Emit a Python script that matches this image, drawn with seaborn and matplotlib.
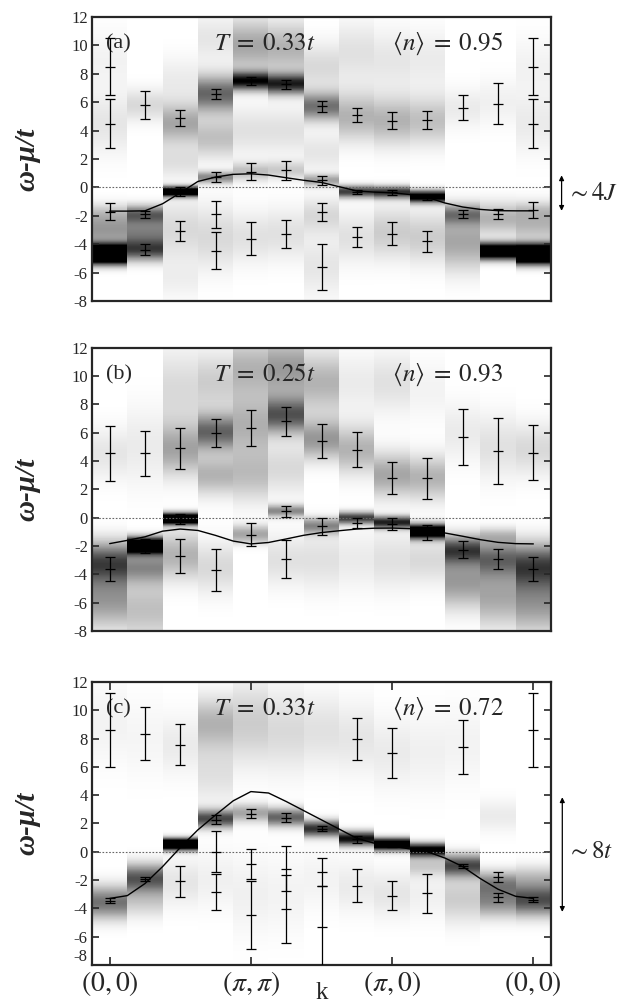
import numpy as np
import matplotlib
matplotlib.use("Agg")
import matplotlib.pyplot as plt
import seaborn as sns

# k path: (0,0) -> (pi,pi) -> (pi,0) -> (0,0), 13 points
k_idx = list(range(13))
k_half = [i / 2 for i in range(25)]
k_tick_pos = [0, 4, 8, 12]
k_tick_lab = [r'$(0,0)$', r'$(\pi,\pi)$', r'$(\pi,0)$', r'$(0,0)$']
y_ticks = [-8, -6, -4, -2, 0, 2, 4, 6, 8, 10, 12]

# spectral peaks per k column: (k, centre, width, weight)
a_peaks = [
    (0, -4.7, 0.45, 2.2), (0, -3.0, 0.8, 0.4), (0, -1.8, 0.5, 0.15), (0, 4.5, 1.5, 0.1), (0, 9.0, 1.5, 0.05),
    (1, -1.9, 0.45, 0.55), (1, -3.1, 0.7, 0.45), (1, -4.4, 0.55, 0.7), (1, 5.8, 0.8, 0.15),
    (2, -0.3, 0.25, 1.3), (2, 4.5, 1.0, 0.35), (2, 1.8, 0.8, 0.12), (2, 7.5, 1.2, 0.08), (2, -3.0, 1.5, 0.15), (2, -6.5, 1.0, 0.06),
    (3, 6.6, 0.9, 0.6), (3, 3.5, 1.0, 0.25), (3, 0.7, 0.3, 0.45), (3, -3.5, 1.6, 0.15), (3, 10.5, 1.2, 0.1),
    (4, 7.5, 0.45, 0.95), (4, 10.0, 1.3, 0.35), (4, 4.0, 1.2, 0.12), (4, 1.1, 0.45, 0.25), (4, -3.5, 1.3, 0.12),
    (5, 7.3, 0.5, 0.85), (5, 9.8, 1.3, 0.3), (5, 4.0, 1.2, 0.12), (5, 1.2, 0.45, 0.2), (5, -3.3, 1.3, 0.12),
    (6, 5.7, 0.7, 0.55), (6, 8.5, 1.2, 0.15), (6, 2.5, 1.0, 0.1), (6, 0.5, 0.3, 0.35), (6, -2.0, 0.9, 0.15), (6, -5.5, 1.5, 0.1),
    (7, 5.0, 1.2, 0.3), (7, 9.5, 1.5, 0.12), (7, -0.3, 0.3, 0.75), (7, -3.5, 1.3, 0.12),
    (8, 4.7, 1.2, 0.3), (8, 9.0, 1.5, 0.1), (8, -0.35, 0.3, 0.8), (8, -3.2, 1.3, 0.2),
    (9, 4.7, 1.2, 0.25), (9, 9.0, 1.5, 0.08), (9, -0.65, 0.3, 1.1), (9, -3.5, 1.3, 0.2),
    (10, -1.9, 0.5, 0.45), (10, -3.8, 1.4, 0.35), (10, 5.6, 1.0, 0.08),
    (11, -4.5, 0.4, 1.5), (11, -2.2, 0.8, 0.3), (11, 6.0, 1.2, 0.06),
    (12, -4.7, 0.45, 2.2), (12, -2.5, 0.9, 0.3), (12, -1.6, 0.4, 0.1), (12, 4.5, 1.5, 0.08), (12, 8.5, 1.5, 0.05),
]
b_peaks = [
    (0, -3.2, 1.0, 0.7), (0, -5.8, 1.4, 0.4), (0, 4.5, 1.3, 0.1),
    (1, -2.0, 0.4, 1.5), (1, -3.5, 0.8, 0.45), (1, -6.5, 1.5, 0.25), (1, 5.0, 2.0, 0.08),
    (2, -0.1, 0.28, 1.5), (2, 4.8, 1.3, 0.35), (2, 9.0, 2.0, 0.15), (2, -2.7, 1.2, 0.3),
    (3, 6.0, 0.9, 0.6), (3, 3.0, 1.0, 0.3), (3, 9.5, 1.5, 0.2), (3, -3.5, 1.3, 0.15),
    (4, 6.5, 1.5, 0.3), (4, 10.5, 1.5, 0.3), (4, 3.0, 1.3, 0.25), (4, -1.2, 0.45, 0.35),
    (5, 7.2, 0.9, 0.65), (5, 10.5, 1.5, 0.4), (5, 3.5, 1.3, 0.15), (5, 0.45, 0.3, 0.45), (5, -3.0, 1.3, 0.12),
    (6, 5.5, 1.0, 0.4), (6, 9.5, 1.5, 0.3), (6, -0.6, 0.4, 0.45), (6, -3.0, 1.5, 0.12),
    (7, 4.8, 1.2, 0.3), (7, -0.05, 0.3, 0.75), (7, -3.0, 1.5, 0.08), (7, 9.5, 1.5, 0.08),
    (8, 3.0, 1.1, 0.35), (8, 9.5, 1.5, 0.12), (8, -0.35, 0.3, 0.85), (8, -3.0, 1.5, 0.12),
    (9, 2.8, 1.1, 0.3), (9, -1.0, 0.35, 1.4), (9, -3.0, 1.2, 0.15), (9, 9.0, 1.5, 0.05),
    (10, -2.3, 0.7, 0.7), (10, -4.5, 1.3, 0.4), (10, 6.0, 1.5, 0.08),
    (11, -2.9, 0.9, 0.55), (11, -5.5, 1.5, 0.35), (11, -1.3, 0.4, 0.2), (11, 5.0, 1.6, 0.12),
    (12, -3.4, 1.1, 0.7), (12, -6.0, 1.5, 0.4), (12, 4.8, 1.3, 0.15),
]
c_peaks = [
    (0, -3.6, 0.8, 0.55), (0, 9.0, 2.0, 0.05),
    (1, -1.9, 0.7, 0.65), (1, -3.5, 0.8, 0.2), (1, 8.0, 2.0, 0.04),
    (2, 0.5, 0.28, 1.6), (2, -2.2, 1.2, 0.1), (2, 7.5, 1.5, 0.08),
    (3, 2.3, 0.45, 0.7), (3, 9.0, 1.3, 0.3), (3, 5.5, 1.5, 0.12), (3, -2.0, 1.5, 0.06),
    (4, 2.7, 0.45, 0.35), (4, 9.0, 2.0, 0.2), (4, -3.0, 2.0, 0.06),
    (5, 2.4, 0.45, 0.6), (5, 8.5, 2.0, 0.15), (5, -3.0, 2.0, 0.05),
    (6, 1.6, 0.4, 0.8), (6, 8.5, 1.8, 0.12), (6, -2.0, 1.5, 0.05),
    (7, 0.9, 0.35, 0.95), (7, 8.0, 1.8, 0.1), (7, -2.5, 1.3, 0.08),
    (8, 0.5, 0.3, 1.3), (8, 7.0, 1.8, 0.08), (8, -3.0, 1.2, 0.1),
    (9, 0.1, 0.33, 1.1), (9, -1.0, 0.5, 0.2), (9, 7.0, 2.0, 0.06), (9, -3.0, 1.3, 0.06),
    (10, -1.0, 0.55, 0.7), (10, -3.3, 1.2, 0.2), (10, 7.5, 2.0, 0.05),
    (11, -2.2, 0.6, 0.4), (11, -3.5, 0.8, 0.45), (11, 2.5, 0.8, 0.08),
    (12, -3.4, 0.8, 0.7), (12, -1.8, 0.6, 0.2),
]

# error bars: (k, omega, error)
a_bars = [
    (0, 8.5, 2.0), (0, 4.5, 1.7), (0, -1.7, 0.6),
    (1, 5.8, 1.0), (1, -1.9, 0.25), (1, -4.4, 0.38),
    (2, 4.9, 0.55), (2, -0.3, 0.3), (2, -3.1, 0.7),
    (3, 6.6, 0.35), (3, 0.7, 0.35), (3, -1.9, 0.95), (3, -4.45, 1.3),
    (4, 7.5, 0.3), (4, 1.1, 0.6), (4, -3.6, 1.15),
    (5, 7.25, 0.35), (5, 1.2, 0.65), (5, -3.3, 1.0),
    (6, 5.7, 0.4), (6, 0.5, 0.3), (6, -1.75, 0.65), (6, -5.6, 1.6),
    (7, 5.1, 0.5), (7, -0.3, 0.15), (7, -3.5, 0.73),
    (8, 4.7, 0.6), (8, -0.35, 0.15), (8, -3.25, 0.8),
    (9, 4.75, 0.65), (9, -0.75, 0.15), (9, -3.8, 0.73),
    (10, 5.6, 0.88), (10, -1.87, 0.25),
    (11, 5.9, 1.45), (11, -1.9, 0.35), (11, -4.35, 0.15),
    (12, 8.5, 2.0), (12, 4.5, 1.7), (12, -1.6, 0.58),
]
b_bars = [
    (0, 4.55, 1.95), (0, -3.65, 0.85),
    (1, 4.55, 1.6), (1, -2.0, 0.5),
    (2, 4.9, 1.45), (2, -0.1, 0.35), (2, -2.7, 1.2),
    (3, 6.0, 1.0), (3, -3.7, 1.5),
    (4, 6.3, 1.27), (4, -1.2, 0.8),
    (5, 6.8, 1.05), (5, 0.45, 0.4), (5, -2.9, 1.35),
    (6, 5.4, 1.2), (6, -0.6, 0.6),
    (7, 4.8, 1.25), (7, -0.4, 0.35),
    (8, 2.8, 1.15), (8, -0.45, 0.45),
    (9, 2.8, 1.45), (9, -1.05, 0.5),
    (10, 5.7, 2.0), (10, -2.25, 0.63),
    (11, 4.7, 2.33), (11, -2.9, 0.7),
    (12, 4.6, 1.97), (12, -3.65, 0.85),
]
c_bars = [
    (0, 8.6, 2.6), (0, -3.45, 0.2),
    (1, 8.35, 1.9), (1, -1.9, 0.15),
    (2, 7.55, 1.45), (2, 0.45, 0.12), (2, -2.1, 1.1),
    (3, 2.27, 0.3), (3, 0.0, 1.45), (3, -2.85, 1.3),
    (4, 2.7, 0.33), (4, -0.85, 1.05), (4, -4.5, 2.4),
    (5, 2.4, 0.33), (5, -1.2, 1.6), (5, -4.05, 2.4),
    (6, 1.63, 0.17), (6, -1.43, 0.98), (6, -5.35, 2.95),
    (7, 7.97, 1.47), (7, 0.87, 0.25), (7, -2.4, 1.17),
    (8, 7.0, 1.76), (8, 0.5, 0.13), (8, -3.1, 1.0),
    (9, 0.15, 0.1), (9, -2.95, 1.4),
    (10, 7.4, 1.9), (10, -1.0, 0.12),
    (11, -1.78, 0.34), (11, -3.23, 0.3),
    (12, 8.6, 2.6), (12, -3.4, 0.17),
]

# mean-field dispersion read at half-steps of k
a_curve = [-1.67, -1.67, -1.65, -1.15, -0.38, 0.42, 0.73, 0.92, 0.96, 0.87, 0.68, 0.5, 0.35,
           0.05, -0.25, -0.33, -0.38, -0.5, -0.7, -1.1, -1.38, -1.55, -1.64, -1.65, -1.65]
b_curve = [-1.83, -1.6, -1.35, -0.95, -0.8, -0.9, -1.25, -1.65, -1.85, -1.75, -1.5, -1.24, -1.05,
           -0.92, -0.8, -0.74, -0.73, -0.77, -0.92, -1.08, -1.31, -1.55, -1.74, -1.83, -1.85]
c_curve = [-3.3, -3.1, -2.25, -1.05, 0.3, 1.55, 2.6, 3.6, 4.25, 4.15, 3.55, 2.9, 2.25,
           1.6, 0.95, 0.6, 0.4, 0.2, 0.0, -0.45, -1.05, -1.9, -2.65, -3.15, -3.3]

panels = [
    ('(a)', r'$T\;=\;0.33t$', r'$\langle n\rangle\;=\;0.95$', a_peaks, a_bars, a_curve),
    ('(b)', r'$T\;=\;0.25t$', r'$\langle n\rangle\;=\;0.93$', b_peaks, b_bars, b_curve),
    ('(c)', r'$T\;=\;0.33t$', r'$\langle n\rangle\;=\;0.72$', c_peaks, c_bars, c_curve),
]

sns.set_style('ticks')
plt.rcParams['font.family'] = ['Liberation Serif', 'DejaVu Serif']
plt.rcParams['mathtext.fontset'] = 'stix'
plt.rcParams['axes.unicode_minus'] = False

fig = plt.figure(figsize=(6.25, 10.08), dpi=100)
ax_pos = [[0.1472, 0.7014, 0.7344, 0.2817],
          [0.1472, 0.3740, 0.7344, 0.2810],
          [0.1472, 0.0427, 0.7344, 0.2808]]
omega = np.linspace(-8, 12, 801)

for n, (tag, ttxt, ntxt, peaks, bars, curve) in enumerate(panels):
    ax = fig.add_axes(ax_pos[n])
    # build spectral weight image
    img = np.zeros((len(omega), 13))
    for k, c, w, a in peaks:
        img[:, k] += a * np.exp(-0.5 * ((omega - c) / w) ** 2)
    img = np.clip(img, 0, 1)
    ax.imshow(img, origin='lower', extent=(-0.5, 12.5, -8, 12), aspect='auto',
              cmap='gray_r', vmin=0, vmax=1, interpolation='nearest', zorder=0)
    ax.axhline(0, color='0.4', lw=0.8, ls=(0, (1.5, 1.5)), zorder=1)
    sns.lineplot(x=k_half, y=curve, ax=ax, color='black', lw=1.0, zorder=3)
    bx = [b[0] for b in bars]
    by = [b[1] for b in bars]
    be = [b[2] for b in bars]
    ax.errorbar(bx, by, yerr=be, fmt='_', color='black', ms=7, mew=0.9,
                elinewidth=0.9, capsize=3.5, capthick=0.9, zorder=4)

    ax.set_xlim(-0.5, 12.5)
    ax.set_ylim(-8, 12)
    ax.set_yticks(y_ticks)
    ax.set_yticklabels([str(v) for v in y_ticks])
    ax.tick_params(axis='y', direction='in', length=5, width=1.2, right=True,
                   labelsize=12, pad=3)
    for s in ax.spines.values():
        s.set_linewidth(1.6)
    ax.set_ylabel('ω-μ/t', fontsize=21, fontweight='bold', fontstyle='italic')
    ax.yaxis.set_label_coords(-0.112, 0.5)

    ax.text(-0.1, 10.1, tag, fontsize=16, ha='left', va='center')
    ax.text(2.95, 10.1, ttxt, fontsize=18, ha='left', va='center')
    ax.text(8.0, 10.1, ntxt, fontsize=18, ha='left', va='center')

    if n < 2:
        ax.set_xticks([])
        ax.set_xlabel('')
    else:
        ax.set_xticks(k_tick_pos)
        ax.set_xticklabels(k_tick_lab, fontsize=20)
        ax.tick_params(axis='x', direction='in', length=6, width=1.2, top=True, pad=3)
        ax.set_xlabel('k', fontsize=18)
        ax.xaxis.set_label_coords(0.5, -0.06)
        ax.get_yticklabels()[0].set_va('bottom')

    if n == 0:
        ax.annotate('', xy=(12.8, 0.85), xytext=(12.8, -1.65), annotation_clip=False,
                    arrowprops=dict(arrowstyle='<|-|>', color='black', lw=0.9,
                                    mutation_scale=7, shrinkA=0, shrinkB=0))
        ax.text(12.95, -0.45, r'$\sim 4J$', fontsize=18, ha='left', va='center', clip_on=False)
    if n == 2:
        ax.annotate('', xy=(12.82, 3.85), xytext=(12.82, -4.25), annotation_clip=False,
                    arrowprops=dict(arrowstyle='<|-|>', color='black', lw=0.9,
                                    mutation_scale=7, shrinkA=0, shrinkB=0))
        ax.text(12.95, 0.0, r'$\sim 8t$', fontsize=18, ha='left', va='center', clip_on=False)

fig.savefig('out.png', dpi=100)
